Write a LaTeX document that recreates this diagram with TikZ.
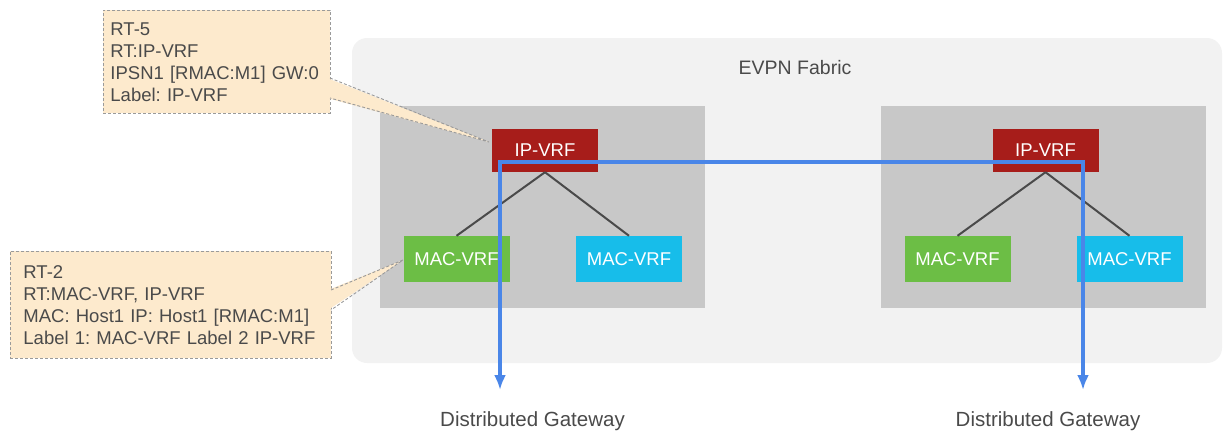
\documentclass[tikz,border=0pt]{standalone}
\usepackage{fontspec}
\setmainfont{Liberation Sans}
\frenchspacing
\usetikzlibrary{arrows.meta}

\definecolor{fabricgray}{HTML}{F2F2F2}
\definecolor{hostgray}{HTML}{C8C8C8}
\definecolor{vrfred}{HTML}{A71D1A}
\definecolor{macgreen}{HTML}{6CBE45}
\definecolor{maccyan}{HTML}{17BDEA}
\definecolor{notepeach}{HTML}{FDEACD}
\definecolor{noteline}{HTML}{9A9A9A}
\definecolor{flowblue}{HTML}{4A86E8}
\definecolor{textgray}{HTML}{4A4A4A}

\tikzset{
  vrfbox/.style={minimum width=106pt, minimum height=44pt, inner sep=0pt,
    text=white, font=\fontsize{18.5}{22}\selectfont},
  ipvrf/.style={vrfbox, fill=vrfred, minimum height=43pt},
  macgreen/.style={vrfbox, fill=macgreen, minimum height=46pt},
  maccyan/.style={vrfbox, fill=maccyan, minimum height=46pt},
  notebox/.style={fill=notepeach, draw=noteline, line width=0.9pt,
    dash pattern=on 3pt off 2pt, anchor=north west, align=left,
    text=textgray, font=\fontsize{18.5}{22}\selectfont},
  wedgeline/.style={draw=noteline, line width=0.9pt, dash pattern=on 3pt off 2pt},
  treeline/.style={draw=textgray, line width=2pt},
  flowtip/.tip={Latex[length=15pt, width=12pt]},
  flow/.style={draw=flowblue, line width=3.2pt, flowtip-flowtip},
  caption/.style={text=textgray, font=\fontsize{20.5}{24}\selectfont},
}

\begin{document}
\begin{tikzpicture}[x=1pt, y=-1pt]
\useasboundingbox (0,0) rectangle (1223,431);

% fabric and the two hosts
\fill[fabricgray, rounded corners=15pt] (352,38) rectangle (1222,363);
\node[text=textgray, font=\fontsize{19.5}{23}\selectfont] (fabric) at (795,68) {EVPN Fabric};
\fill[hostgray] (380,106) rectangle (705,308);
\fill[hostgray] (881,106) rectangle (1206,308);

% left host
\node[ipvrf] (ipvrfL) at (545,150.5) {IP-VRF};
\node[macgreen] (macgL) at (456.5,259) {MAC-VRF};
\node[maccyan] (maccL) at (629,259) {MAC-VRF};
\draw[treeline] (ipvrfL.south) -- (macgL.north);
\draw[treeline] (ipvrfL.south) -- (maccL.north);

% right host
\node[ipvrf] (ipvrfR) at (1045.5,150.5) {IP-VRF};
\node[macgreen] (macgR) at (957.5,259) {MAC-VRF};
\node[maccyan] (maccR) at (1129.5,259) {MAC-VRF};
\draw[treeline] (ipvrfR.south) -- (macgR.north);
\draw[treeline] (ipvrfR.south) -- (maccR.north);

% route notes
\node[notebox, minimum width=227pt, minimum height=103pt, text width=213pt,
  inner xsep=7pt] (rt5) at (103,10) {RT-5\\RT:IP-VRF\\IPSN1 [RMAC:M1] GW:0\\Label: IP-VRF};
\node[notebox, minimum width=321pt, minimum height=107pt, text width=295pt,
  inner xsep=13pt] (rt2) at (10,251) {RT-2\\RT:MAC-VRF, IP-VRF\\MAC: Host1 IP: Host1 [RMAC:M1]\\Label 1: MAC-VRF Label 2 IP-VRF};

\coordinate (rt5a) at (330,78);
\coordinate (rt5b) at (330,98);
\coordinate (rt5tip) at (489,142);
\fill[notepeach] (327,78) -- (rt5tip) -- (327,98) -- cycle;
\draw[wedgeline] (rt5a) -- (rt5tip) -- (rt5b);

\coordinate (rt2a) at (331,290);
\coordinate (rt2b) at (331,310);
\coordinate (rt2tip) at (403,260);
\fill[notepeach] (328,290) -- (rt2tip) -- (328,310) -- cycle;
\draw[wedgeline] (rt2a) -- (rt2tip) -- (rt2b);

% distributed gateway path
\coordinate (gwL) at (500,390);
\coordinate (gwR) at (1083,390);
\coordinate (tapL) at (500,162);
\coordinate (tapR) at (1083,162);
\draw[flow] (gwL) -- (tapL) -- (tapR) -- (gwR);

\node[caption] (dgL) at (532.5,421) {Distributed Gateway};
\node[caption] (dgR) at (1048,421) {Distributed Gateway};

\end{tikzpicture}
\end{document}
